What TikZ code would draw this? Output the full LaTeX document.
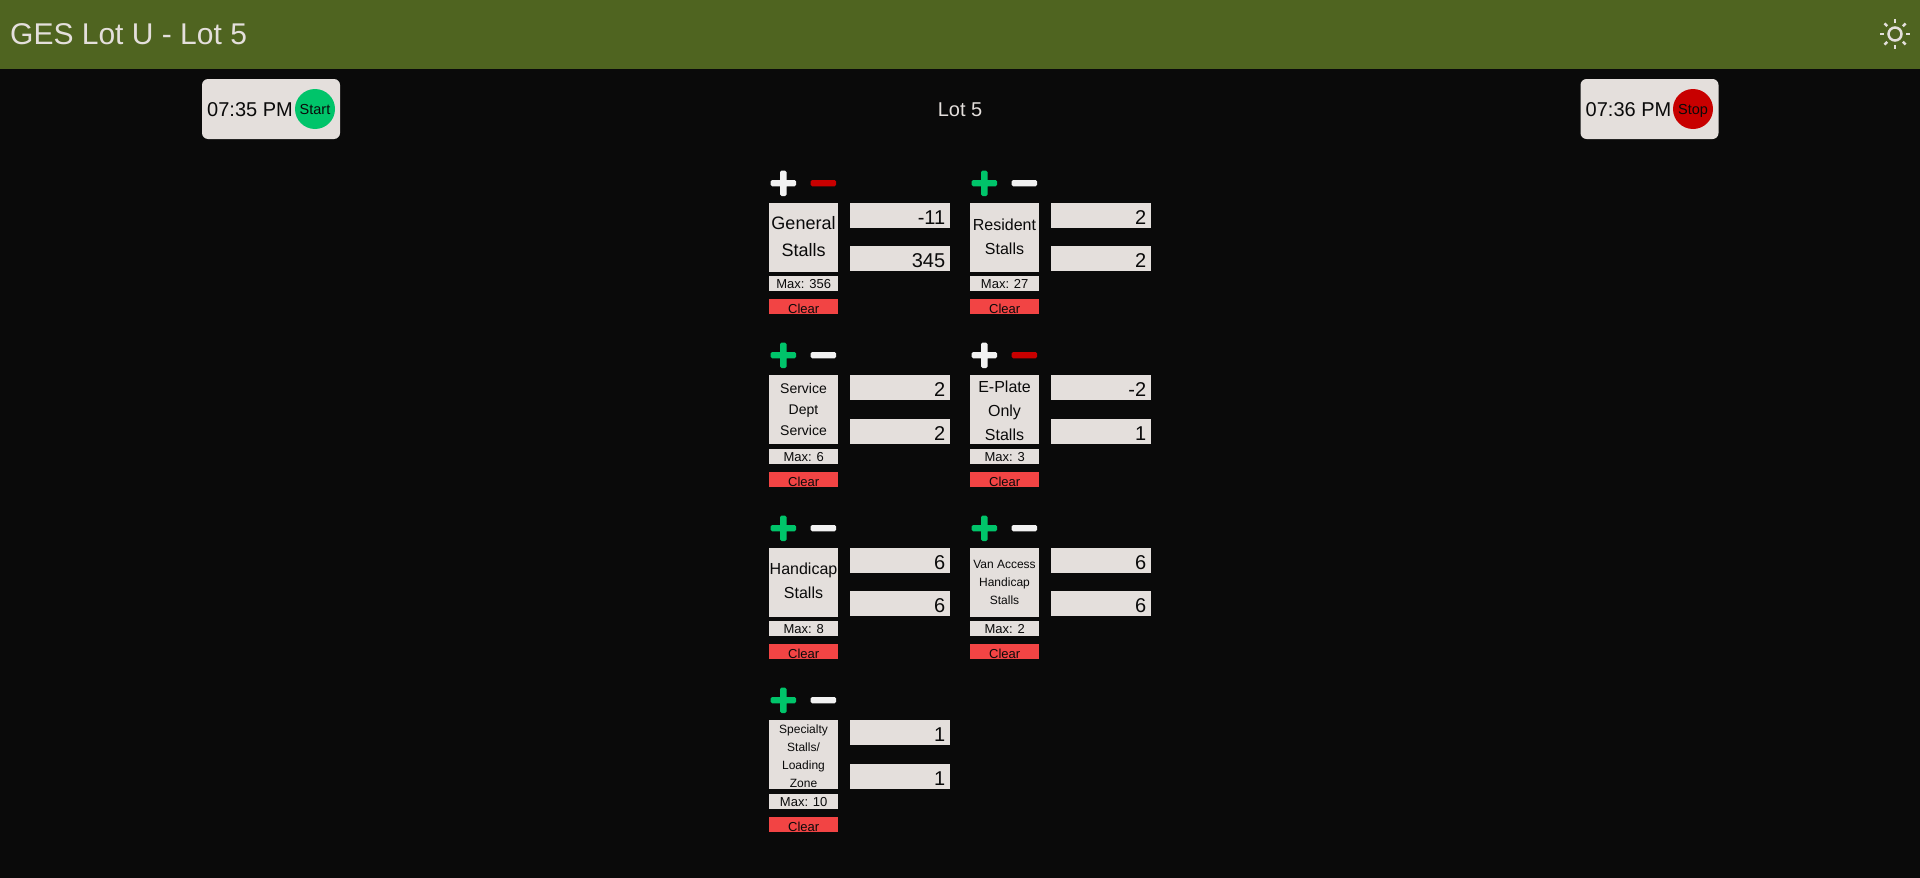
\documentclass[tikz,border=0pt]{standalone}
\usepackage{fontspec}
\setmainfont{Liberation Sans}
\definecolor{pagebg}{HTML}{0A0A0A}
\definecolor{barolive}{HTML}{4F6420}
\definecolor{cardgrey}{HTML}{E4DFDC}
\definecolor{signgreen}{HTML}{00C46A}
\definecolor{signred}{HTML}{C80000}
\definecolor{signwhite}{HTML}{F2F2F2}
\definecolor{clearred}{HTML}{F24444}
\definecolor{inktext}{HTML}{0A0A0A}
\tikzset{
	namebox/.style={fill=cardgrey, minimum width=69pt, minimum height=68.5pt, inner sep=0pt},
	nametext/.style={text=inktext, inner sep=0pt, align=center},
	valuebox/.style={fill=cardgrey, text=inktext, inner sep=0pt, inner xsep=5pt, text width=90pt, align=right, text height=21pt, text depth=4pt, font=\fontsize{20}{24}\selectfont, anchor=north west},
	maxbox/.style={fill=cardgrey, text=inktext, inner sep=0pt, minimum width=69pt, text height=12pt, text depth=3pt, font=\fontsize{13}{15}\selectfont, anchor=north west},
	clearbox/.style={fill=clearred, text=inktext, inner sep=0pt, minimum width=69pt, text height=14pt, text depth=1pt, font=\fontsize{13}{15}\selectfont, anchor=north west},
	sign/.style={rounded corners=1.5pt},
	timepill/.style={fill=cardgrey, rounded corners=6pt, minimum width=138pt, minimum height=60pt, inner sep=0pt},
	timetext/.style={text=inktext, inner sep=0pt, anchor=base west, font=\fontsize{20}{24}\selectfont},
	dotbtn/.style={circle, minimum size=40pt, inner sep=0pt, text=inktext, text height=12.4pt, text depth=1pt, font=\fontsize{14.5}{16}\selectfont},
	sunray/.style={draw=cardgrey, line width=2.5pt},
}
\begin{document}
\begin{tikzpicture}[x=1pt,y=-1pt]
	\useasboundingbox (0,0) rectangle (1920,878);
	\fill[pagebg] (0,0) rectangle (1920,878);
	
	% Barra superior
	\fill[barolive] (0,0) rectangle (1920,69);
	\node[text=cardgrey, inner sep=0pt, anchor=base west, font=\fontsize{30}{36}\selectfont] (barTitle) at (10,44) {GES Lot U - Lot 5};
	\draw[sunray] (1895,34) circle (6.5);
	\foreach \ang in {0,45,...,315}
		\draw[sunray] (1895,34) ++(\ang:11) -- ++(\ang:4);
	
	% Horas y botones
	\node[timepill] (startPill) at (271,109) {};
	\node[timetext] (startTime) at (207,116) {07:35 PM};
	\node[dotbtn, fill=signgreen] (startBtn) at (315,109) {Start};
	\node[timepill] (stopPill) at (1649.5,109) {};
	\node[timetext] (stopTime) at (1585.5,116) {07:36 PM};
	\node[dotbtn, fill=signred] (stopBtn) at (1693,109) {Stop};
	\node[text=cardgrey, inner sep=0pt, anchor=base, font=\fontsize{20}{24}\selectfont] (lotTitle) at (960,116) {Lot 5};
	
	% General
	\begin{scope}[shift={(769,203)}]
		\fill[sign, signwhite] (1.7,-23) rectangle (27,-16.7) (11,-32.3) rectangle (17.5,-7);
		\fill[sign, signred] (41.7,-23) rectangle (67,-16.7);
		\node[namebox] (genBox) at (34.5,34.25) {};
		\node[nametext, font=\fontsize{18}{27}\selectfont] (genName) at (34.5,34) {General\\Stalls};
		\node[valuebox] (genDiff) at (81,0) {-11};
		\node[valuebox] (genCount) at (81,43) {345};
		\node[maxbox] (genMax) at (0,73) {Max: 356};
		\node[clearbox] (genClear) at (0,96) {Clear};
	\end{scope}
	
	% Resident
	\begin{scope}[shift={(970,203)}]
		\fill[sign, signgreen] (1.7,-23) rectangle (27,-16.7) (11,-32.3) rectangle (17.5,-7);
		\fill[sign, signwhite] (41.7,-23) rectangle (67,-16.7);
		\node[namebox] (resBox) at (34.5,34.25) {};
		\node[nametext, font=\fontsize{16}{24}\selectfont] (resName) at (34.5,34) {Resident\\Stalls};
		\node[valuebox] (resDiff) at (81,0) {2};
		\node[valuebox] (resCount) at (81,43) {2};
		\node[maxbox] (resMax) at (0,73) {Max: 27};
		\node[clearbox] (resClear) at (0,96) {Clear};
	\end{scope}
	
	% Service
	\begin{scope}[shift={(769,375)}]
		\fill[sign, signgreen] (1.7,-23) rectangle (27,-16.7) (11,-32.3) rectangle (17.5,-7);
		\fill[sign, signwhite] (41.7,-23) rectangle (67,-16.7);
		\node[namebox] (svcBox) at (34.5,34.5) {};
		\node[nametext, font=\fontsize{14}{21}\selectfont] (svcName) at (34.5,34.5) {Service\\Dept\\Service};
		\node[valuebox] (svcDiff) at (81,0) {2};
		\node[valuebox] (svcCount) at (81,44) {2};
		\node[maxbox] (svcMax) at (0,74) {Max: 6};
		\node[clearbox] (svcClear) at (0,97) {Clear};
	\end{scope}
	
	% E-Plate
	\begin{scope}[shift={(970,375)}]
		\fill[sign, signwhite] (1.7,-23) rectangle (27,-16.7) (11,-32.3) rectangle (17.5,-7);
		\fill[sign, signred] (41.7,-23) rectangle (67,-16.7);
		\node[namebox] (epBox) at (34.5,34.5) {};
		\node[nametext, font=\fontsize{16}{24}\selectfont] (epName) at (34.5,36) {E-Plate\\Only\\Stalls};
		\node[valuebox] (epDiff) at (81,0) {-2};
		\node[valuebox] (epCount) at (81,44) {1};
		\node[maxbox] (epMax) at (0,74) {Max: 3};
		\node[clearbox] (epClear) at (0,97) {Clear};
	\end{scope}
	
	% Handicap
	\begin{scope}[shift={(769,548)}]
		\fill[sign, signgreen] (1.7,-23) rectangle (27,-16.7) (11,-32.3) rectangle (17.5,-7);
		\fill[sign, signwhite] (41.7,-23) rectangle (67,-16.7);
		\node[namebox] (hcpBox) at (34.5,34.25) {};
		\node[nametext, font=\fontsize{16}{24}\selectfont] (hcpName) at (34.5,33) {Handicap\\Stalls};
		\node[valuebox] (hcpDiff) at (81,0) {6};
		\node[valuebox] (hcpCount) at (81,43) {6};
		\node[maxbox] (hcpMax) at (0,73) {Max: 8};
		\node[clearbox] (hcpClear) at (0,96) {Clear};
	\end{scope}
	
	% Van Access
	\begin{scope}[shift={(970,548)}]
		\fill[sign, signgreen] (1.7,-23) rectangle (27,-16.7) (11,-32.3) rectangle (17.5,-7);
		\fill[sign, signwhite] (41.7,-23) rectangle (67,-16.7);
		\node[namebox] (vanBox) at (34.5,34.25) {};
		\node[nametext, font=\fontsize{12}{18}\selectfont] (vanName) at (34.5,34) {Van Access\\Handicap\\Stalls};
		\node[valuebox] (vanDiff) at (81,0) {6};
		\node[valuebox] (vanCount) at (81,43) {6};
		\node[maxbox] (vanMax) at (0,73) {Max: 2};
		\node[clearbox] (vanClear) at (0,96) {Clear};
	\end{scope}
	
	% Specialty
	\begin{scope}[shift={(769,720)}]
		\fill[sign, signgreen] (1.7,-23) rectangle (27,-16.7) (11,-32.3) rectangle (17.5,-7);
		\fill[sign, signwhite] (41.7,-23) rectangle (67,-16.7);
		\node[namebox] (splBox) at (34.5,34.5) {};
		\node[nametext, font=\fontsize{12}{18}\selectfont] (splName) at (34.5,36) {Specialty\\Stalls/\\Loading\\Zone};
		\node[valuebox] (splDiff) at (81,0) {1};
		\node[valuebox] (splCount) at (81,44) {1};
		\node[maxbox] (splMax) at (0,74) {Max: 10};
		\node[clearbox] (splClear) at (0,97) {Clear};
	\end{scope}
\end{tikzpicture}
\end{document}
